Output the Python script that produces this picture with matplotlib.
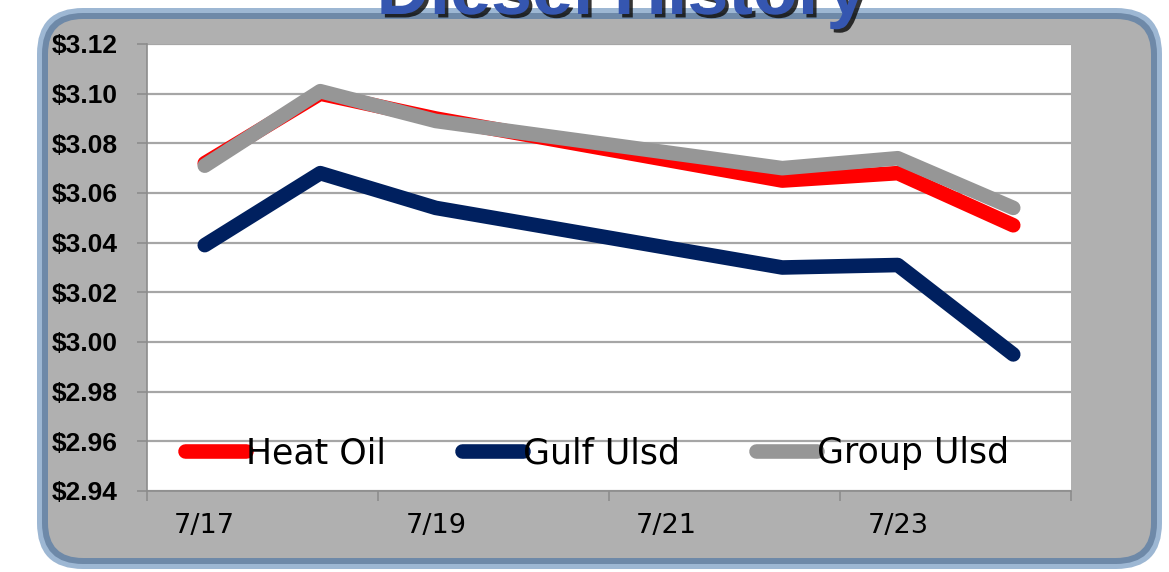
import matplotlib.pyplot as plt
import matplotlib.patheffects as pe
from matplotlib.patches import FancyBboxPatch
from matplotlib.ticker import FixedLocator, NullFormatter

# data
days = [17, 18, 19, 22, 23, 24]          # July
heat_oil = [3.072, 3.100, 3.090, 3.065, 3.068, 3.047]
gulf_ulsd = [3.039, 3.068, 3.054, 3.030, 3.031, 2.995]
group_ulsd = [3.071, 3.101, 3.089, 3.070, 3.074, 3.054]

label_days = [17, 19, 21, 23]
label_text = ["7/17", "7/19", "7/21", "7/23"]
y_ticks = [2.94, 2.96, 2.98, 3.00, 3.02, 3.04, 3.06, 3.08, 3.10, 3.12]

W, H = 1169, 572
fig = plt.figure(figsize=(W / 100, H / 100), dpi=100)

# background panel drawn in pixel units
bg = fig.add_axes([0, 0, 1, 1], zorder=0)
bg.set_xlim(0, W)
bg.set_ylim(H, 0)
bg.axis("off")
bg.add_patch(FancyBboxPatch((37, 8), 1125, 561,
                            boxstyle="round,pad=0,rounding_size=46",
                            facecolor="#9db7d3", edgecolor="none"))
bg.add_patch(FancyBboxPatch((42, 13), 1115, 551,
                            boxstyle="round,pad=0,rounding_size=41",
                            facecolor="#6e89a8", edgecolor="none"))
bg.add_patch(FancyBboxPatch((48, 19), 1103, 539,
                            boxstyle="round,pad=0,rounding_size=35",
                            facecolor="#b0b0b0", edgecolor="none"))

# title sits mostly above the picture, as in the original slide
title = fig.text(0.532, 1 - 14 / H, "Diesel History", ha="center", va="baseline",
                 fontsize=53, fontweight="bold", color="#3556b0",
                 family="Liberation Sans", zorder=5)
title.set_path_effects([pe.withSimplePatchShadow(offset=(2.5, -2.5),
                                                 shadow_rgbFace="#111111", alpha=0.85)])

ax = fig.add_axes([147 / W, 1 - 491 / H, (1071 - 147) / W, (491 - 44) / H], zorder=2)
ax.set_facecolor("white")

lw = 10.5
ax.plot(days, heat_oil, color="#ff0000", lw=lw, solid_capstyle="round",
        solid_joinstyle="round", label="Heat Oil", zorder=3)
ax.plot(days, gulf_ulsd, color="#00205f", lw=lw, solid_capstyle="round",
        solid_joinstyle="round", label="Gulf Ulsd", zorder=3)
ax.plot(days, group_ulsd, color="#969696", lw=lw, solid_capstyle="round",
        solid_joinstyle="round", label="Group Ulsd", zorder=4)

ax.set_xlim(16.5, 24.5)
ax.set_ylim(2.94, 3.12)

ax.set_yticks(y_ticks)
ax.set_yticklabels([f"${v:.2f}" for v in y_ticks], fontsize=19, fontweight="bold",
                   family="Liberation Sans")
ax.yaxis.grid(True, color="#a6a6a6", lw=1.6)
ax.set_axisbelow(True)

ax.xaxis.set_major_locator(FixedLocator([16.5, 18.5, 20.5, 22.5, 24.5]))
ax.xaxis.set_major_formatter(NullFormatter())
ax.set_xticks(label_days, minor=True)
ax.set_xticklabels(label_text, minor=True, fontsize=19.5, family="DejaVu Sans")
ax.tick_params(axis="x", which="major", length=7, width=1.2, color="#8c8c8c", direction="out")
ax.tick_params(axis="x", which="minor", length=0, pad=16)
ax.tick_params(axis="y", length=7, width=1.2, color="#8c8c8c", pad=14)

for side in ["top", "right"]:
    ax.spines[side].set_visible(False)
ax.spines["left"].set_color("#8c8c8c")
ax.spines["bottom"].set_color("#8c8c8c")
ax.spines["left"].set_linewidth(1.2)
ax.spines["bottom"].set_linewidth(1.2)

leg = ax.legend(loc="center", bbox_to_anchor=(0.487, 0.085), ncol=3, frameon=False,
                prop={"family": "DejaVu Sans", "size": 25}, handlelength=1.75,
                handletextpad=0.0, columnspacing=2.2, borderpad=0)

fig.savefig("out.png", dpi=100)
